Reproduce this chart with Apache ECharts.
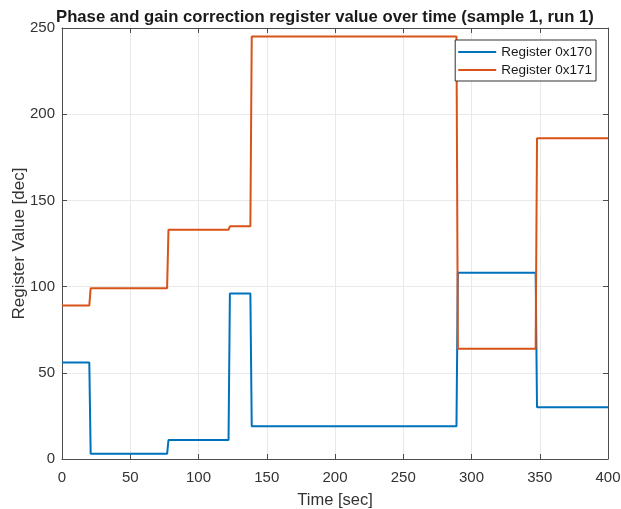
<!DOCTYPE html>
<html>
<head>
<meta charset="utf-8">
<script src="https://cdn.jsdelivr.net/npm/echarts@6/dist/echarts.min.js"></script>
<style>
  html, body { margin: 0; padding: 0; background: #fff; }
  #chart { width: 621px; height: 509px; }
</style>
</head>
<body>
<div id="chart"></div>
<script>
// Sample times (s) and register readings for each register
const time170 = [0, 20, 21, 77, 78, 122, 123, 138, 139, 289, 290, 347, 348, 400];
const reg170  = [56, 56, 3, 3, 11, 11, 96, 96, 19, 19, 108, 108, 30, 30];
const time171 = [0, 20, 21, 77, 78, 122, 123, 138, 139, 289, 290, 347, 348, 400];
const reg171  = [89, 89, 99, 99, 133, 133, 135, 135, 245, 245, 64, 64, 186, 186];

const seriesNames = ['Register 0x170', 'Register 0x171'];
const xTicks = [0, 50, 100, 150, 200, 250, 300, 350, 400];
const yTicks = [0, 50, 100, 150, 200, 250];

const FONT = 'Liberation Sans, Arial, Helvetica, sans-serif';
const AX = '#4d4d4d';
const TXT = '#333333';

const pairs = (t, v) => t.map((x, i) => [x, v[i]]);

const chart = echarts.init(document.getElementById('chart'), null, { renderer: 'canvas' });

const baseX = {
  type: 'value',
  min: xTicks[0], max: xTicks[xTicks.length - 1], interval: xTicks[1] - xTicks[0],
  axisLine: { show: true, onZero: false, lineStyle: { color: AX, width: 1 } },
  axisTick: { show: true, inside: true, length: 5, lineStyle: { color: AX } },
};
const baseY = {
  type: 'value',
  min: yTicks[0], max: yTicks[yTicks.length - 1], interval: yTicks[1] - yTicks[0],
  axisLine: { show: true, onZero: false, lineStyle: { color: AX, width: 1 } },
  axisTick: { show: true, inside: true, length: 5, lineStyle: { color: AX } },
};

chart.setOption({
  animation: false,
  backgroundColor: '#fff',
  title: {
    text: 'Phase and gain correction register value over time (sample 1, run 1)',
    left: 51, top: 4,
    textStyle: { fontFamily: FONT, fontSize: 16.7, fontWeight: 'bold', color: '#1a1a1a' }
  },
  grid: { left: 62, right: 13, top: 28, bottom: 50, containLabel: false, outerBoundsMode: 'none' },
  legend: {
    data: seriesNames,
    orient: 'vertical',
    right: 25, top: 40,
    itemWidth: 38, itemHeight: 2, itemGap: 4,
    padding: [5, 4, 4, 3],
    backgroundColor: '#fff',
    borderColor: '#333', borderWidth: 1, borderRadius: 0,
    icon: 'rect',
    textStyle: { fontFamily: FONT, fontSize: 13.5, color: '#1a1a1a' }
  },
  xAxis: [
    Object.assign({}, baseX, {
      position: 'bottom',
      name: 'Time [sec]', nameLocation: 'middle', nameGap: 33,
      nameTextStyle: { fontFamily: FONT, fontSize: 16.5, color: TXT },
      axisLabel: { fontFamily: FONT, fontSize: 15, color: TXT, margin: 11 },
      splitLine: { show: true, lineStyle: { color: '#e9e9e9', width: 1 } }
    }),
    Object.assign({}, baseX, {
      position: 'top',
      axisLabel: { show: false },
      splitLine: { show: false }
    })
  ],
  yAxis: [
    Object.assign({}, baseY, {
      position: 'left',
      name: 'Register Value [dec]', nameLocation: 'middle', nameGap: 34, nameRotate: 90,
      nameMoveOverlap: false,
      nameTextStyle: { fontFamily: FONT, fontSize: 17, color: TXT },
      axisLabel: { fontFamily: FONT, fontSize: 15, color: TXT, margin: 7 },
      splitLine: { show: true, lineStyle: { color: '#e9e9e9', width: 1 } }
    }),
    Object.assign({}, baseY, {
      position: 'right',
      axisLabel: { show: false },
      splitLine: { show: false }
    })
  ],
  series: [
    {
      name: seriesNames[0], type: 'line',
      data: pairs(time170, reg170),
      showSymbol: false, symbol: 'none',
      color: '#0072BD',
      lineStyle: { color: '#0072BD', width: 2 },
      z: 3
    },
    {
      name: seriesNames[1], type: 'line',
      data: pairs(time171, reg171),
      showSymbol: false, symbol: 'none',
      color: '#D95319',
      lineStyle: { color: '#D95319', width: 2 },
      z: 3
    }
  ]
});
</script>
</body>
</html>
